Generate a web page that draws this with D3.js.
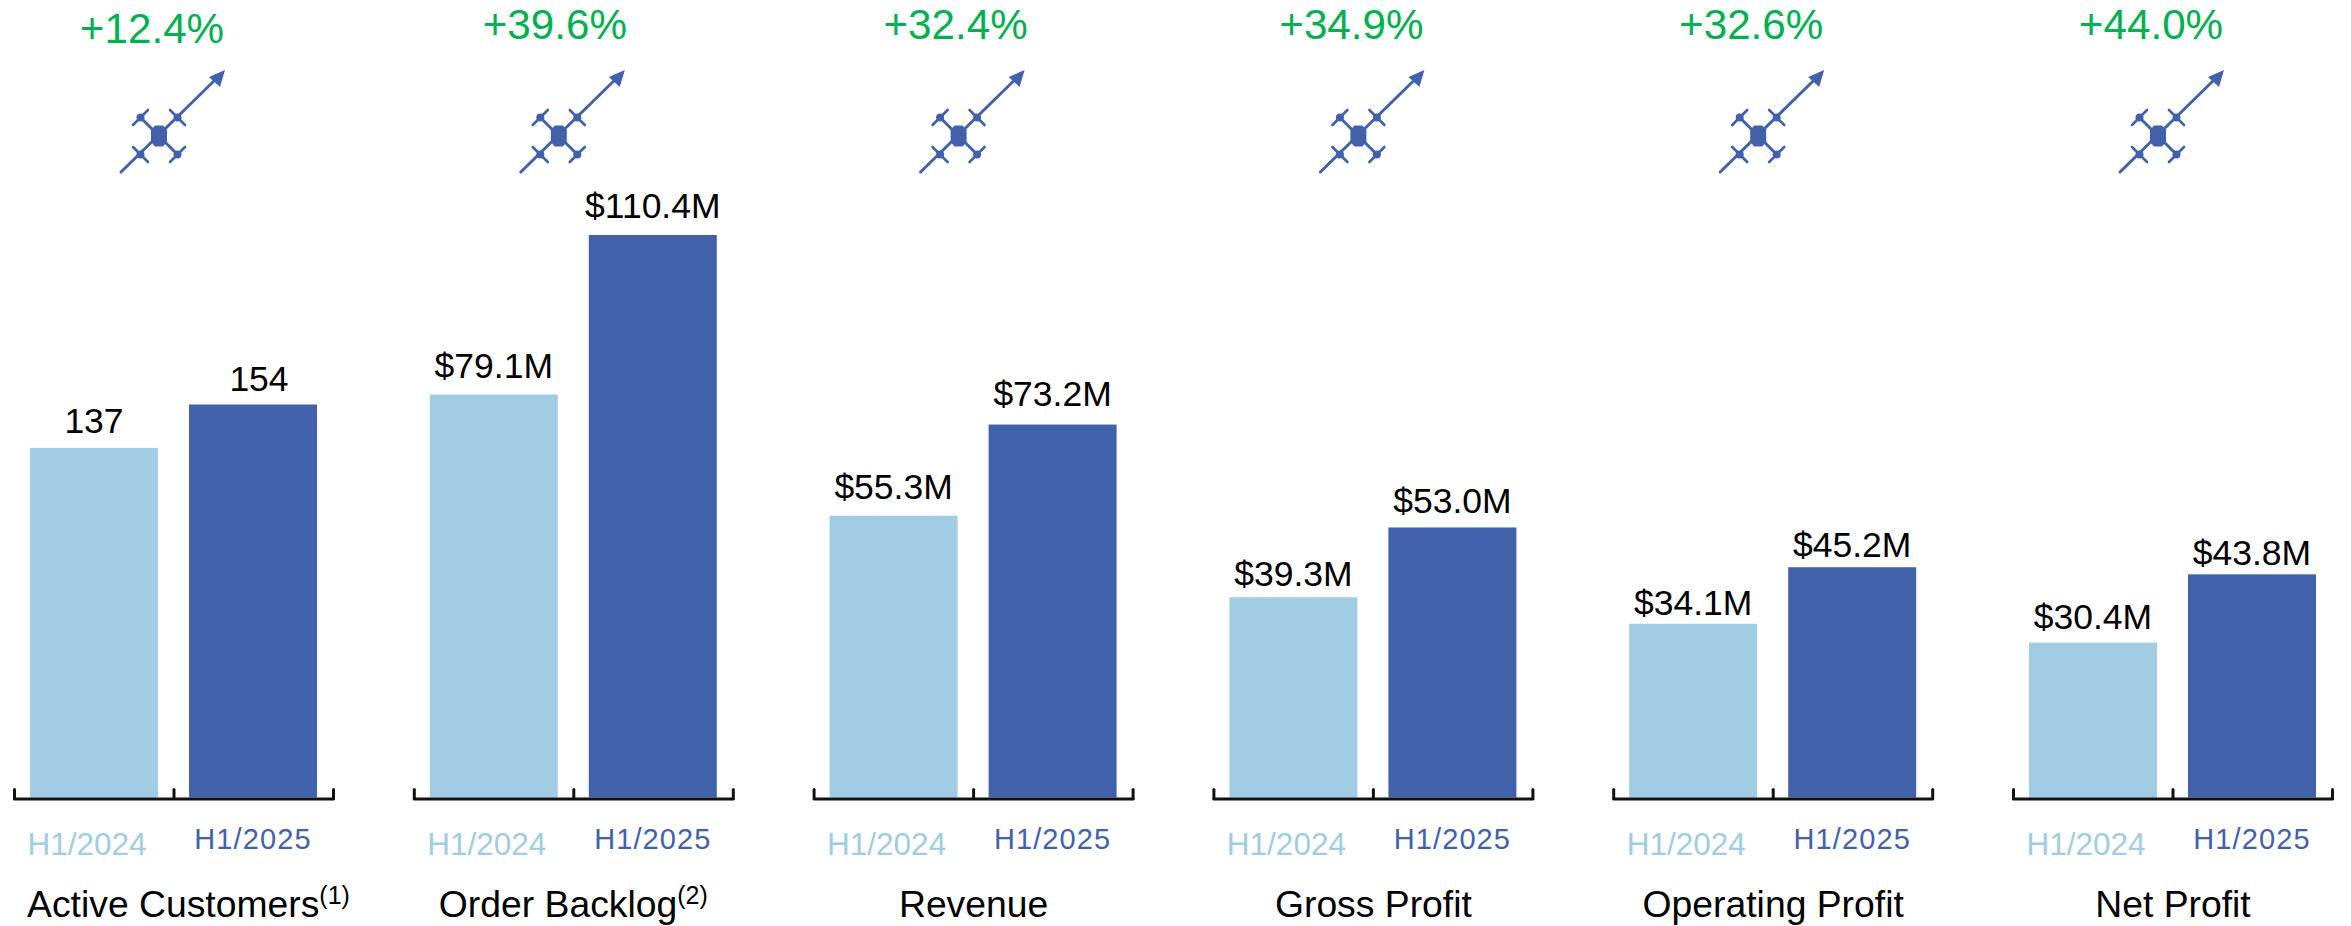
<!DOCTYPE html>
<html><head><meta charset="utf-8">
<script src="https://cdn.jsdelivr.net/npm/d3@7"></script>
<style>html,body{margin:0;padding:0;background:#fff}svg{display:block}text{font-family:"Liberation Sans",Arial,sans-serif}</style>
</head><body><div id="chart"></div>
<script>
const categories = ["Active Customers","Order Backlog","Revenue","Gross Profit","Operating Profit","Net Profit"];
const footnotes = ["(1)","(2)","","","",""];
const periods = ["H1/2024","H1/2025"];
const values2024 = [137,79.1,55.3,39.3,34.1,30.4];
const values2025 = [154,110.4,73.2,53.0,45.2,43.8];
const growth = ["+12.4%","+39.6%","+32.4%","+34.9%","+32.6%","+44.0%"];
const units = ["count","usd","usd","usd","usd","usd"];

const W=2351,H=926,BLUE="#4161AB",LIGHT="#A0CDE3",GREEN="#00B050",INK="#000";
const base=797.5;
const svg=d3.select("#chart").append("svg").attr("width",W).attr("height",H);
const panelX=d3.scalePoint().domain(categories).range([30,2029]);
const barX=d3.scaleBand().domain(periods).range([0,287]).paddingInner(0.195).paddingOuter(0);
const yCount=d3.scaleLinear().domain([0,154]).range([base,404.5]);
const yUsd=d3.scaleLinear().domain([0,100]).range([base,base-509.5]);
const bracket=d3.scaleLinear().domain([0,2]).range([-16,303]);
const fmt=(v,u)=>u==="usd"?"$"+v.toFixed(1)+"M":String(v);

// layout tweaks
const gap2024=[15,16,17,11,9,14], gap2025=[14,17,19,14,10,9];
const dx2025=[6,0,0,0,0,0];
const growthDx=[122,125,126,122,122,122];
const growthY=[43,39,39,39,39,39];
const titleDx=[158.5,143.5,144,144,144,144];

function drone(g){
  g.attr("fill",BLUE).attr("stroke",BLUE).attr("stroke-linecap","round");
  g.append("path").attr("d","M-38,36L58,-58").attr("fill","none").attr("stroke-width",3);
  g.append("path").attr("d","M-18.5,-18.5L18.5,18.5").attr("fill","none").attr("stroke-width",3);
  g.append("path").attr("d","M66,-66L50,-59L61,-49Z").attr("stroke","none");
  g.append("path").attr("d","M-4,-10.5L4,-10.5L8,-6L8,6L4,10.5L-4,10.5L-8,6L-8,-6Z").attr("stroke","none");
  [[-18.5,-18.5,1],[18.5,-18.5,-1],[-18.5,18.5,-1],[18.5,18.5,1]].forEach(([x,y,s])=>{
    g.append("circle").attr("cx",x).attr("cy",y).attr("r",4).attr("stroke","none");
    const d=7.5;
    g.append("line").attr("x1",x-d).attr("y1",y+s*d).attr("x2",x+d).attr("y2",y-s*d).attr("stroke-width",2.6);
  });
}

categories.forEach((c,i)=>{
  const g=svg.append("g").attr("transform",`translate(${panelX(c)},0)`);
  const y=units[i]==="usd"?yUsd:yCount;
  const vals=[values2024[i],values2025[i]];
  g.selectAll("rect").data(periods).join("rect")
    .attr("x",p=>barX(p)).attr("width",barX.bandwidth())
    .attr("y",(p,k)=>y(vals[k])).attr("height",(p,k)=>base-y(vals[k]))
    .attr("fill",(p,k)=>k?BLUE:LIGHT);
  const axis=g.append("g").attr("transform","translate(0,798.5)")
    .call(d3.axisBottom(bracket).tickValues([0,1,2]).tickSize(-9).tickSizeOuter(0).tickFormat(""));
  axis.selectAll("path,line").attr("stroke","#111").attr("stroke-width",3).attr("stroke-linecap","round");
  g.selectAll("text.val").data(periods).join("text").attr("class","val")
    .attr("x",(p,k)=>barX(p)+barX.bandwidth()/2+(k?dx2025[i]:0))
    .attr("y",(p,k)=>y(vals[k])-(k?gap2025[i]:gap2024[i]))
    .attr("text-anchor","middle").attr("font-size",35.5).attr("fill",INK)
    .text((p,k)=>fmt(vals[k],units[i]));
  g.append("text").attr("x",57).attr("y",855).attr("text-anchor","middle").attr("font-size",31.5).attr("fill",LIGHT).text(periods[0]);
  g.append("text").attr("x",223).attr("y",849).attr("text-anchor","middle").attr("font-size",29).attr("letter-spacing",1.1).attr("fill",BLUE).text(periods[1]);
  const t=g.append("text").attr("x",titleDx[i]).attr("y",917).attr("text-anchor","middle").attr("font-size",37.3).attr("fill",INK);
  t.append("tspan").text(c);
  if(footnotes[i]) t.append("tspan").attr("font-size",25).attr("dy",-13).text(footnotes[i]);
  g.append("text").attr("x",growthDx[i]).attr("y",growthY[i]).attr("text-anchor","middle").attr("font-size",42.2).attr("fill",GREEN).text(growth[i]);
  drone(g.append("g").attr("transform","translate(129,136)"));
});
</script></body></html>
